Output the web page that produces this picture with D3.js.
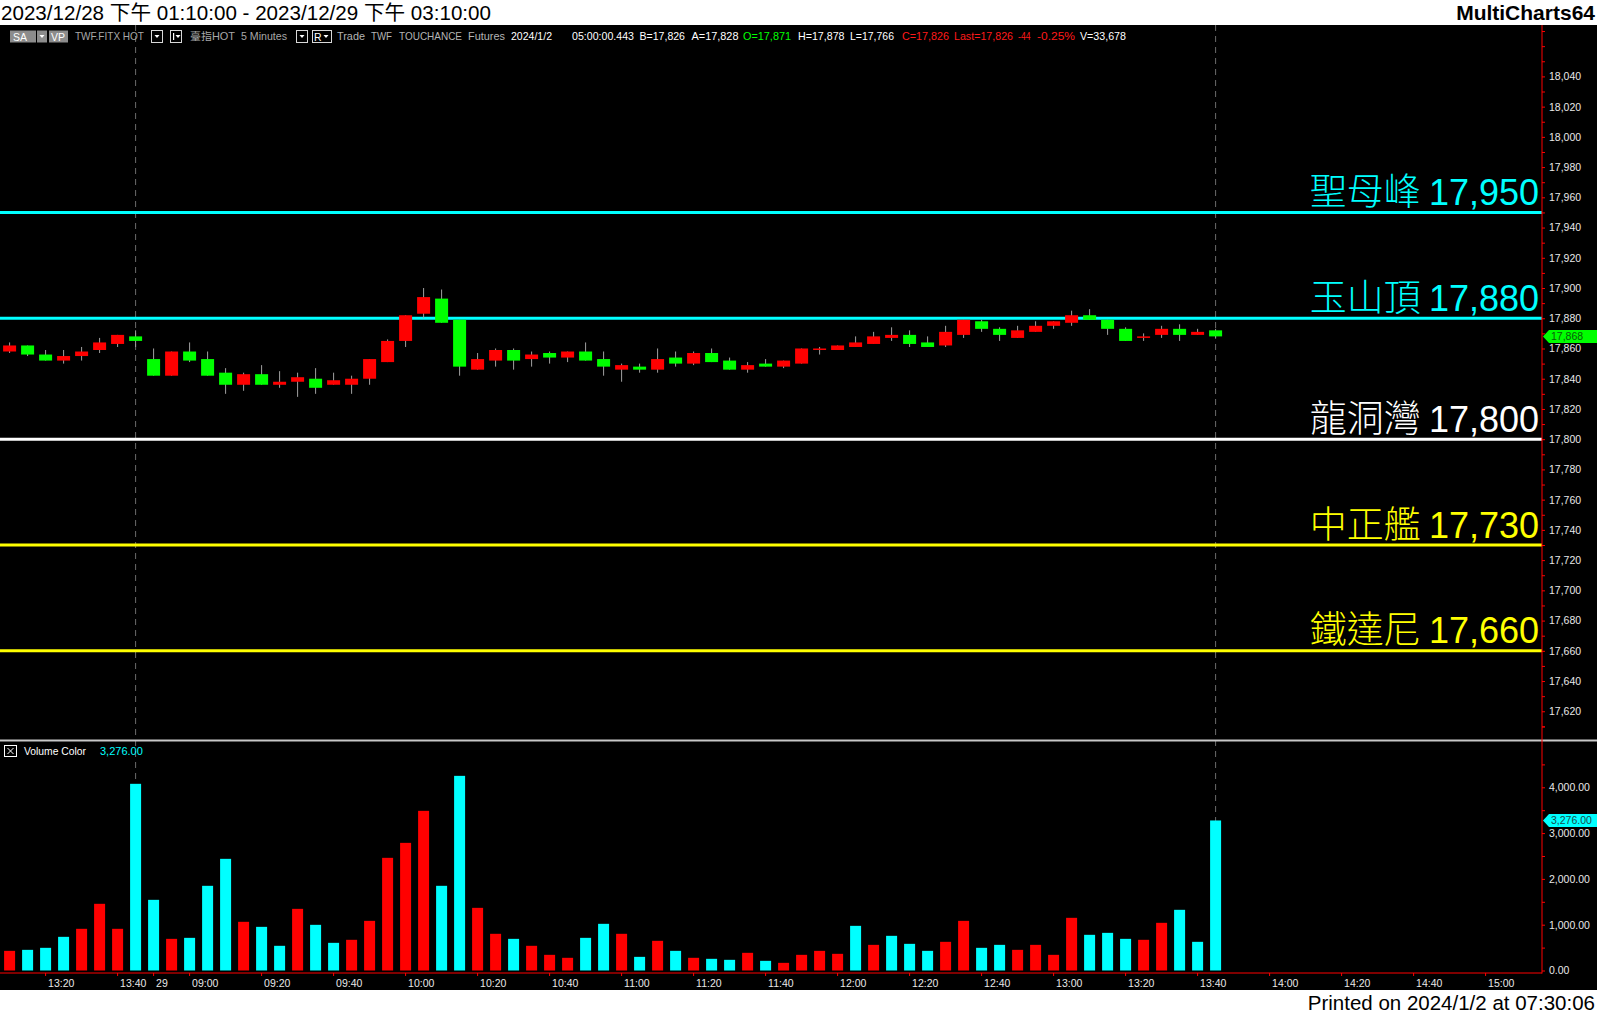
<!DOCTYPE html>
<html><head><meta charset="utf-8">
<script src="https://cdn.jsdelivr.net/npm/d3@7"></script>
<style>
html,body{margin:0;padding:0;background:#000;overflow:hidden}
svg{display:block}
text{font-family:"Liberation Sans",Arial,"Noto Sans CJK TC",sans-serif}
</style></head><body>
<svg id="c" width="1597" height="1014"></svg>
<script>
// ---------- DATA ----------
const times = [
"12/28 13:10","12/28 13:15","12/28 13:20","12/28 13:25","12/28 13:30","12/28 13:35","12/28 13:40","12/28 13:45",
"12/29 08:50","12/29 08:55","12/29 09:00","12/29 09:05","12/29 09:10","12/29 09:15","12/29 09:20","12/29 09:25",
"12/29 09:30","12/29 09:35","12/29 09:40","12/29 09:45","12/29 09:50","12/29 09:55","12/29 10:00","12/29 10:05",
"12/29 10:10","12/29 10:15","12/29 10:20","12/29 10:25","12/29 10:30","12/29 10:35","12/29 10:40","12/29 10:45",
"12/29 10:50","12/29 10:55","12/29 11:00","12/29 11:05","12/29 11:10","12/29 11:15","12/29 11:20","12/29 11:25",
"12/29 11:30","12/29 11:35","12/29 11:40","12/29 11:45","12/29 11:50","12/29 11:55","12/29 12:00","12/29 12:05",
"12/29 12:10","12/29 12:15","12/29 12:20","12/29 12:25","12/29 12:30","12/29 12:35","12/29 12:40","12/29 12:45",
"12/29 12:50","12/29 12:55","12/29 13:00","12/29 13:05","12/29 13:10","12/29 13:15","12/29 13:20","12/29 13:25",
"12/29 13:30","12/29 13:35","12/29 13:40","12/29 13:45",
"12/29 13:50","12/29 13:55","12/29 14:00","12/29 14:05","12/29 14:10","12/29 14:15","12/29 14:20","12/29 14:25",
"12/29 14:30","12/29 14:35","12/29 14:40","12/29 14:45","12/29 14:50","12/29 14:55","12/29 15:00","12/29 15:05","12/29 15:10"
];
const opens = [17858,17862,17856,17852,17855,17859,17863,17868,17853,17842,17858,17853,17844,17836,17843,17836,17838,17840,17836,17836,
17840,17851,17865,17883,17893,17879,17846,17852,17859,17853,17857,17854,17858,17853,17846,17848,17846,17854,17850,17857,
17852,17846,17850,17848,17850,17859,17859,17861,17863,17867,17869,17864,17862,17869,17878,17873,17867,17871,17875,17877,
17882,17879,17873,17867,17869,17873,17869,17872];
const highs = [17864,17862,17859,17859,17861,17867,17869,17872,17860,17858,17864,17858,17847,17844,17849,17845,17844,17847,17844,17842,
17853,17866,17882,17900,17899,17879,17857,17860,17860,17858,17858,17858,17864,17858,17850,17850,17860,17858,17858,17860,
17854,17851,17853,17852,17860,17861,17862,17868,17871,17874,17872,17868,17875,17879,17879,17874,17875,17878,17878,17885,
17886,17879,17874,17870,17875,17876,17873,17873];
const lows = [17857,17855,17852,17850,17852,17857,17861,17861,17842,17842,17851,17842,17830,17832,17836,17834,17828,17830,17836,17830,
17836,17851,17861,17880,17877,17842,17846,17848,17846,17848,17850,17851,17852,17842,17838,17844,17844,17848,17849,17851,
17846,17844,17848,17847,17850,17856,17859,17861,17863,17865,17861,17861,17861,17867,17871,17865,17867,17871,17873,17875,
17879,17869,17865,17865,17867,17865,17869,17867];
const closes = [17862,17856,17852,17855,17858,17864,17869,17865,17842,17858,17852,17842,17836,17843,17836,17838,17841,17834,17839,17840,
17853,17865,17882,17894,17877,17848,17853,17859,17852,17856,17854,17858,17852,17848,17849,17846,17853,17850,17857,17851,
17846,17849,17848,17852,17860,17860,17862,17864,17868,17869,17863,17861,17871,17879,17873,17869,17872,17875,17878,17882,
17879,17873,17865,17868,17873,17869,17871,17868];
const volumes = [429,451,495,735,910,1456,910,4076,1543,691,713,1849,2438,1063,953,539,1346,997,604,670,
1084,2460,2787,3486,1849,4250,1368,801,691,539,342,277,713,1019,801,298,648,429,277,255,
233,386,211,167,342,429,364,975,560,757,582,429,626,1084,495,560,451,560,342,1150,
779,822,691,670,1041,1325,626,3276];
const volUp = [1,0,0,0,1,1,1,0,0,1,0,0,0,1,0,0,1,0,0,1,
1,1,1,1,0,0,1,1,0,1,1,1,0,0,1,0,1,0,1,0,
0,1,0,1,1,1,1,0,1,0,0,0,1,1,0,0,1,1,1,1,
0,0,0,1,1,0,0,0];
const levelPrices = [17950,17880,17800,17730,17660];
const levelNames = ["聖母峰","玉山頂","龍洞灣","中正艦","鐵達尼"];
const levelColors = ["#00FFFF","#00FFFF","#FFFFFF","#FFFF00","#FFFF00"];
const priceLabels = [17620,17640,17660,17680,17700,17720,17740,17760,17780,17800,17820,17840,17860,17880,17900,17920,17940,17960,17980,18000,18020,18040];
const volLabels = [0,1000,2000,3000,4000];
const timeTicks = ["12/28 13:20","12/28 13:40","12/29 08:50","12/29 09:00","12/29 09:20","12/29 09:40","12/29 10:00","12/29 10:20",
"12/29 10:40","12/29 11:00","12/29 11:20","12/29 11:40","12/29 12:00","12/29 12:20","12/29 12:40","12/29 13:00","12/29 13:20",
"12/29 13:40","12/29 14:00","12/29 14:20","12/29 14:40","12/29 15:00"];
const lastPrice = 17868, lastVolume = 3276;

// ---------- LAYOUT ----------
const W = 1597, H = 1014, axisX = 1542;
const svg = d3.select("#c");
svg.append("rect").attr("width", W).attr("height", H).attr("fill", "#000");
svg.append("rect").attr("width", W).attr("height", 25).attr("fill", "#fff");
svg.append("rect").attr("y", 990).attr("width", W).attr("height", 24).attr("fill", "#fff");

const x = d3.scaleBand().domain(times).range([0.6, 0.6 + 18 * times.length]).padding(0);
const cx = d => x(d) + x.bandwidth() / 2;
const yP = d3.scaleLinear().domain([17601, 18074]).range([740, 25]);
const yV = d3.scaleLinear().domain([0, 5000]).range([970.5, 741.5]);

// title and footer
svg.append("text").attr("x", 1).attr("y", 20).attr("font-size", 20.5).attr("fill", "#000")
  .attr("textLength", 490).attr("lengthAdjust", "spacingAndGlyphs")
  .text("2023/12/28 下午 01:10:00 - 2023/12/29 下午 03:10:00");
svg.append("text").attr("x", 1595).attr("y", 20).attr("text-anchor", "end").attr("font-size", 21)
  .attr("font-weight", "bold").attr("fill", "#000").text("MultiCharts64");
svg.append("text").attr("x", 1595).attr("y", 1010).attr("text-anchor", "end").attr("font-size", 20.5)
  .attr("fill", "#000").text("Printed on 2024/1/2 at 07:30:06");

// dashed vertical lines
[times[7], times[67]].forEach(t => {
  svg.append("line").attr("x1", cx(t)).attr("x2", cx(t)).attr("y1", 25).attr("y2", 970)
    .attr("stroke", "#6a6a6a").attr("stroke-width", 1).attr("stroke-dasharray", "6,5");
});

// header row
const hdr = svg.append("g").attr("font-size", 10.5);
function box(x0, w, fill, stroke) {
  hdr.append("rect").attr("x", x0).attr("y", 30.5).attr("width", w).attr("height", 12)
    .attr("fill", fill).attr("stroke", stroke || "none");
}
function tri(xc) {
  hdr.append("path").attr("d", `M${xc-2.5},35 L${xc+2.5},35 L${xc},38 Z`).attr("fill", "#fff");
}
box(10, 26, "#8c8c8c"); box(37, 10, "#8c8c8c"); tri(42);
hdr.append("text").attr("x", 13).attr("y", 40.5).attr("fill", "#fff").text("SA");
box(49, 19, "#8c8c8c");
hdr.append("text").attr("x", 51).attr("y", 40.5).attr("fill", "#fff").text("VP");
box(151.5, 11, "#000", "#d8d8d8"); tri(157);
box(170.5, 11, "#000", "#d8d8d8"); tri(178);
hdr.append("rect").attr("x", 173).attr("y", 33).attr("width", 1.2).attr("height", 7).attr("fill", "#fff");
box(296.5, 11, "#000", "#d8d8d8"); tri(302);
box(312.5, 19, "#000", "#d8d8d8"); tri(326);
hdr.append("text").attr("x", 314).attr("y", 40.5).attr("fill", "#fff").text("R");
const hdrItems = [
  ["TWF.FITX HOT", 75, 69, "#a8a8a8"], ["臺指HOT", 190, 45, "#a8a8a8"], ["5 Minutes", 241, 46, "#a8a8a8"],
  ["Trade", 337, 28, "#b4b4b4"], ["TWF", 371, 21, "#b4b4b4"], ["TOUCHANCE", 399, 63, "#b4b4b4"], ["Futures", 468, 37, "#b4b4b4"],
  ["2024/1/2", 511, 41, "#ffffff"], ["05:00:00.443", 572, 62, "#ffffff"], ["B=17,826", 639.5, 45.5, "#ffffff"],
  ["A=17,828", 691.5, 47, "#ffffff"], ["O=17,871", 743, 48, "#00ff00"], ["H=17,878", 798, 46.5, "#ffffff"],
  ["L=17,766", 850, 44, "#ffffff"], ["C=17,826", 902, 47, "#ff1a1a"], ["Last=17,826", 954, 59, "#ff1a1a"],
  ["-44", 1018, 12.5, "#ff1a1a"], ["-0.25%", 1037, 38, "#ff1a1a"], ["V=33,678", 1080, 46, "#ffffff"]
];
hdrItems.forEach(([t, x0, w, c]) => hdr.append("text").attr("x", x0).attr("y", 40).attr("fill", c)
  .attr("textLength", w).attr("lengthAdjust", "spacingAndGlyphs").text(t));

// level lines and labels
levelPrices.forEach((p, i) => {
  svg.append("line").attr("x1", 0).attr("x2", axisX).attr("y1", yP(p)).attr("y2", yP(p))
    .attr("stroke", levelColors[i]).attr("stroke-width", 3);
  const t = svg.append("text").attr("x", 1539).attr("y", yP(p) - 7.5).attr("text-anchor", "end")
    .attr("font-size", 37).attr("fill", levelColors[i]);
  t.append("tspan").attr("font-family", "'Noto Sans CJK TC'").attr("font-weight", 300).text(levelNames[i] + " ");
  t.append("tspan").attr("font-size", 36).text(d3.format(",")(p));
});

// candles
const bars = d3.range(opens.length);
const cg = svg.append("g");
cg.selectAll("line.wick").data(bars).join("line")
  .attr("x1", i => cx(times[i])).attr("x2", i => cx(times[i]))
  .attr("y1", i => yP(highs[i])).attr("y2", i => yP(lows[i]))
  .attr("stroke", "#a0a0a0").attr("stroke-width", 1);
cg.selectAll("rect.body").data(bars).join("rect")
  .attr("x", i => cx(times[i]) - 6.5).attr("width", 13)
  .attr("y", i => yP(Math.max(opens[i], closes[i])))
  .attr("height", i => Math.max(1.5, Math.abs(yP(opens[i]) - yP(closes[i]))))
  .attr("fill", i => closes[i] >= opens[i] ? "#ff0000" : "#00ff00");

// pane separator
svg.append("rect").attr("x", 0).attr("y", 739.5).attr("width", W).attr("height", 2).attr("fill", "#c8c8c8");

// volume bars
svg.append("g").selectAll("rect").data(bars).join("rect")
  .attr("x", i => cx(times[i]) - 5.5).attr("width", 11)
  .attr("y", i => yV(volumes[i])).attr("height", i => yV(0) - yV(volumes[i]))
  .attr("fill", i => volUp[i] ? "#ff0000" : "#00ffff");

// volume header
const vh = svg.append("g");
vh.append("rect").attr("x", 4.5).attr("y", 745.5).attr("width", 12).attr("height", 11)
  .attr("fill", "none").attr("stroke", "#fff").attr("stroke-width", 1);
vh.append("path").attr("d", "M7.5,748 L13.5,754 M13.5,748 L7.5,754").attr("stroke", "#fff").attr("stroke-width", 1);
vh.append("text").attr("x", 24).attr("y", 755).attr("font-size", 11).attr("fill", "#fff")
  .attr("textLength", 62).attr("lengthAdjust", "spacingAndGlyphs").text("Volume Color");
vh.append("text").attr("x", 100).attr("y", 755).attr("font-size", 11).attr("fill", "#00ffff").text(d3.format(",.2f")(lastVolume));

// axes
svg.append("line").attr("x1", axisX).attr("x2", axisX).attr("y1", 25).attr("y2", 973.5).attr("stroke", "#ff0000");
svg.append("line").attr("x1", 0).attr("x2", axisX).attr("y1", 973).attr("y2", 973).attr("stroke", "#ff0000");

const priceTickVals = priceLabels.concat(priceLabels.map(v => v - 10)).concat([18050, 18060, 18070, 17610]);
const pAxis = d3.axisRight(yP).tickValues(priceTickVals).tickSize(3).tickSizeOuter(0).tickPadding(4)
  .tickFormat(d => priceLabels.includes(d) ? d3.format(",")(d) : "");
const pg = svg.append("g").attr("transform", `translate(${axisX},0)`).call(pAxis);
pg.select(".domain").remove();
pg.selectAll("line").attr("stroke", "#ff0000");
pg.selectAll("text").attr("fill", "#e8e8e8").attr("font-size", 10.5).attr("font-family", "Liberation Sans, Arial");

const volTickVals = volLabels.concat([500, 1500, 2500, 3500, 4500]);
const vAxis = d3.axisRight(yV).tickValues(volTickVals).tickSize(3).tickSizeOuter(0).tickPadding(4)
  .tickFormat(d => volLabels.includes(d) ? d3.format(",.2f")(d) : "");
const vg = svg.append("g").attr("transform", `translate(${axisX},0)`).call(vAxis);
vg.select(".domain").remove();
vg.selectAll("line").attr("stroke", "#ff0000");
vg.selectAll("text").attr("fill", "#e8e8e8").attr("font-size", 10.5).attr("font-family", "Liberation Sans, Arial");

const xAxis = d3.axisBottom(x).tickValues(timeTicks).tickSize(3).tickSizeOuter(0)
  .tickFormat(d => d === "12/29 08:50" ? "29" : d.slice(6));
const xg = svg.append("g").attr("transform", "translate(0,973)").call(xAxis);
xg.select(".domain").remove();
xg.selectAll("line").attr("stroke", "#ff0000");
xg.selectAll("text").attr("fill", "#e8e8e8").attr("font-size", 10.5).attr("font-family", "Liberation Sans, Arial")
  .attr("text-anchor", "start").attr("x", 2.5).attr("y", 6.5).attr("dy", "0.71em");

// last value markers
function marker(yc, fill, txt, tcol) {
  svg.append("path").attr("d", `M${axisX+1},${yc} L${axisX+7},${yc-6.5} L1597,${yc-6.5} L1597,${yc+6.5} L${axisX+7},${yc+6.5} Z`)
    .attr("fill", fill);
  svg.append("text").attr("x", 1551).attr("y", yc + 4).attr("font-size", 10.5).attr("fill", tcol).text(txt);
}
marker(yP(lastPrice), "#00ff00", d3.format(",")(lastPrice), "#0a5a0a");
marker(yV(lastVolume), "#00ffff", d3.format(",.2f")(lastVolume), "#1a4a4a");
</script>
</body></html>
